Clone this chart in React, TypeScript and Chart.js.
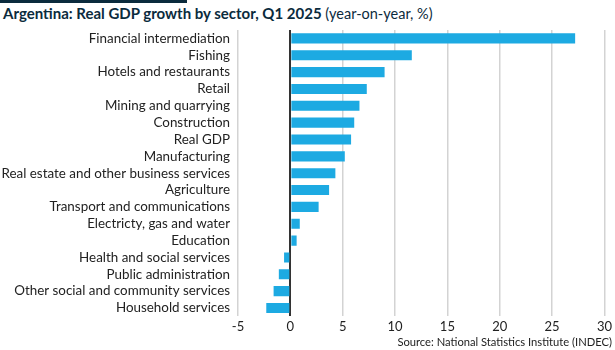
import React, { useEffect, useRef } from "react";
import { Chart, registerables } from "chart.js";

Chart.register(...registerables);

const categories = [
  "Financial intermediation",
  "Fishing",
  "Hotels and restaurants",
  "Retail",
  "Mining and quarrying",
  "Construction",
  "Real GDP",
  "Manufacturing",
  "Real estate and other business services",
  "Agriculture",
  "Transport and communications",
  "Electricty, gas and water",
  "Education",
  "Health and social services",
  "Public administration",
  "Other social and community services",
  "Household services",
];

const growth = [27.2, 11.6, 9.0, 7.3, 6.6, 6.1, 5.8, 5.2, 4.3, 3.7, 2.7, 0.9, 0.6, -0.6, -1.1, -1.6, -2.3];

const xMin = -5;
const xMax = 30;
const xStep = 5;

const titleBold = "Argentina: Real GDP growth by sector, Q1 2025";
const titleRest = " (year-on-year, %)";
const sourceText = "Source: National Statistics Institute (INDEC)";

const FONT = "Lato, 'Open Sans', sans-serif";

export default function App() {
  const ref = useRef<HTMLCanvasElement | null>(null);

  useEffect(() => {
    if (!ref.current) return;
    const chart = new Chart(ref.current, {
      type: "bar",
      data: {
        labels: categories,
        datasets: [
          {
            data: growth,
            backgroundColor: "#1DAAE2",
            borderWidth: 0,
            barPercentage: 0.6,
            categoryPercentage: 1,
          },
        ],
      },
      options: {
        indexAxis: "y",
        responsive: false,
        animation: false,
        maintainAspectRatio: false,
        layout: { padding: { top: 30, left: 0, right: 9, bottom: 12 } },
        plugins: {
          legend: { display: false },
          tooltip: { enabled: false },
          title: { display: false },
        },
        scales: {
          x: {
            min: xMin,
            max: xMax,
            ticks: {
              stepSize: xStep,
              color: "#222",
              font: { family: FONT, size: 13 },
              padding: 3,
            },
            grid: {
              drawTicks: false,
              color: (ctx: any) => (ctx.tick && ctx.tick.value === 0 ? "#333" : "#d3d3d3"),
              lineWidth: (ctx: any) => (ctx.tick && ctx.tick.value === 0 ? 2 : 1.5),
            },
            border: { display: false },
          },
          y: {
            ticks: {
              color: "#222",
              font: { family: FONT, size: 13.4 },
              padding: 8,
              autoSkip: false,
            },
            grid: { display: false, drawTicks: false },
            border: { display: false },
            afterFit: (scale: any) => {
              scale.width = 238;
            },
          },
        },
      },
    });
    return () => chart.destroy();
  }, []);

  return (
    <div style={{ position: "fixed", left: 0, top: 0, width: 615, height: 350, background: "#fff", fontFamily: FONT }}>
      <div style={{ position: "absolute", left: 0, top: 0, width: 187, height: 3, background: "#0b2b3d" }} />
      <div
        style={{
          position: "absolute",
          left: 3,
          top: 4,
          fontSize: 15,
          color: "#0b2b3d",
          whiteSpace: "nowrap",
          lineHeight: "18px",
        }}
      >
        <span style={{ fontWeight: 700 }}>{titleBold}</span>
        <span style={{ fontWeight: 400, fontSize: 14.5 }}>{titleRest}</span>
      </div>
      <canvas ref={ref} width={615} height={350} style={{ position: "absolute", left: 0, top: 0 }} />
      <div
        style={{
          position: "absolute",
          right: 3,
          top: 335,
          fontSize: 11.2,
          color: "#222",
          whiteSpace: "nowrap",
          lineHeight: "14px",
        }}
      >
        {sourceText}
      </div>
    </div>
  );
}
